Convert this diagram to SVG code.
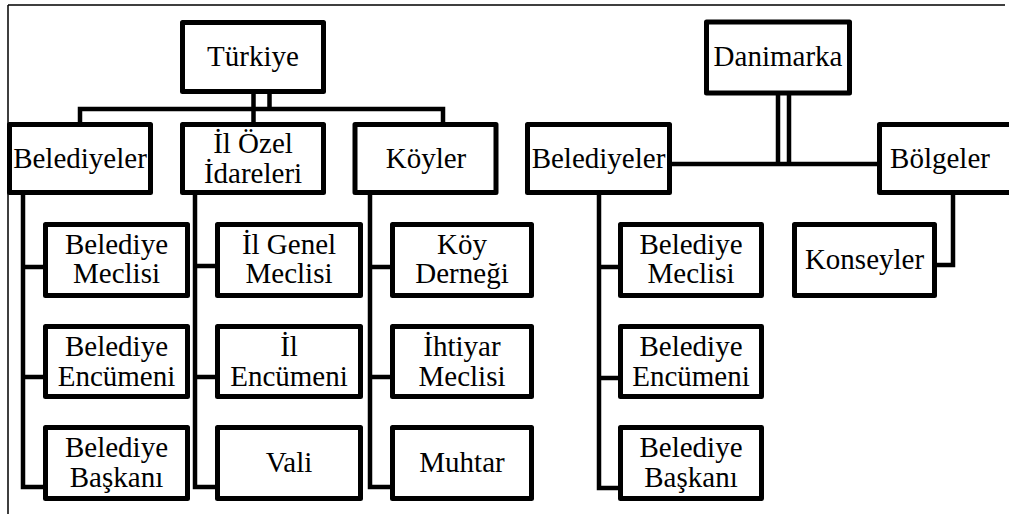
<svg xmlns="http://www.w3.org/2000/svg" width="1009" height="514" viewBox="0 0 1009 514">
<style>
.box{fill:#fff;stroke:#000;stroke-width:5;stroke-linejoin:round}
.c{fill:none;stroke:#000;stroke-width:4.5;stroke-linejoin:miter;stroke-linecap:square}
.f{fill:none;stroke:#000;stroke-width:1.5}
</style>
<rect width="1009" height="514" fill="#fff"/>
<g id="frame"><path class="f" d="M8,5 H1005 M8,5 V514"/></g>
<g id="connectors">
<path class="c" d="M253.5,94 V122 M269.5,94 V109 M80,122 V109 H443 V122"/>
<path class="c" d="M23,195 V487 H43 M23,267 H43 M23,377 H43"/>
<path class="c" d="M195,195 V487 H215 M195,266 H215 M195,377 H215"/>
<path class="c" d="M370,195 V487 H390 M370,267 H390 M370,377 H390"/>
<path class="c" d="M599,195 V488 H618 M599,267 H618 M599,378 H618"/>
<path class="c" d="M778,96 V164 M789,96 V164 M672,164 H877"/>
<path class="c" d="M953,195 V265 H937"/>
</g>
<g id="nodes" font-size="29" text-anchor="middle" fill="#000">
<g id="turkiye"><rect class="box" x="182.5" y="22.5" width="141" height="69"/><text style="font-family:'Liberation Serif'" x="253" y="66">Türkiye</text></g>
<g id="t-belediyeler"><rect class="box" x="9.5" y="124.5" width="141" height="68"/><text style="font-family:'Liberation Serif'" x="80" y="168">Belediyeler</text></g>
<g id="t-ilozel"><rect class="box" x="182.5" y="124.5" width="141" height="68"/><text style="font-family:'Liberation Serif'" x="253" y="153">İl Özel<tspan x="253" dy="30">İdareleri</tspan></text></g>
<g id="t-koyler"><rect class="box" x="355" y="124.5" width="141" height="68"/><text style="font-family:'Liberation Serif'" x="426" y="168">Köyler</text></g>
<g id="t-bel-meclisi"><rect class="box" x="45.5" y="224.5" width="142" height="71"/><text style="font-family:'Liberation Serif'" x="116.5" y="254">Belediye<tspan x="116.5" dy="29">Meclisi</tspan></text></g>
<g id="t-bel-encumeni"><rect class="box" x="45.5" y="326.5" width="142" height="70"/><text style="font-family:'Liberation Serif'" x="116.5" y="356">Belediye<tspan x="116.5" dy="30">Encümeni</tspan></text></g>
<g id="t-bel-baskani"><rect class="box" x="45.5" y="427.5" width="142" height="71"/><text style="font-family:'Liberation Serif'" x="116.5" y="457">Belediye<tspan x="116.5" dy="30">Başkanı</tspan></text></g>
<g id="t-il-genel"><rect class="box" x="217.5" y="224.5" width="143" height="71"/><text style="font-family:'Liberation Serif'" x="289" y="254">İl Genel<tspan x="289" dy="29">Meclisi</tspan></text></g>
<g id="t-il-encumeni"><rect class="box" x="217.5" y="326.5" width="143" height="70"/><text style="font-family:'Liberation Serif'" x="289" y="356">İl<tspan x="289" dy="30">Encümeni</tspan></text></g>
<g id="t-vali"><rect class="box" x="217.5" y="427.5" width="143" height="71"/><text style="font-family:'Liberation Serif'" x="289" y="472">Vali</text></g>
<g id="t-koy-dernegi"><rect class="box" x="392.5" y="224.5" width="139" height="71"/><text style="font-family:'Liberation Serif'" x="462" y="254">Köy<tspan x="462" dy="29">Derneği</tspan></text></g>
<g id="t-ihtiyar"><rect class="box" x="392.5" y="326.5" width="139" height="70"/><text style="font-family:'Liberation Serif'" x="462" y="356">İhtiyar<tspan x="462" dy="30">Meclisi</tspan></text></g>
<g id="t-muhtar"><rect class="box" x="392.5" y="427.5" width="139" height="71"/><text style="font-family:'Liberation Serif'" x="462" y="472">Muhtar</text></g>
<g id="danimarka"><rect class="box" x="706.5" y="22" width="143" height="71"/><text style="font-family:'Liberation Serif'" x="778" y="66">Danimarka</text></g>
<g id="d-belediyeler"><rect class="box" x="527.5" y="124.5" width="142" height="68"/><text style="font-family:'Liberation Serif'" x="598.5" y="168">Belediyeler</text></g>
<g id="d-bolgeler"><rect class="box" x="879.5" y="124.5" width="142" height="68"/><text style="font-family:'Liberation Serif'" x="940" y="168">Bölgeler</text></g>
<g id="d-bel-meclisi"><rect class="box" x="620.5" y="224.5" width="141" height="71"/><text style="font-family:'Liberation Serif'" x="691" y="254">Belediye<tspan x="691" dy="29">Meclisi</tspan></text></g>
<g id="d-bel-encumeni"><rect class="box" x="620.5" y="326.5" width="141" height="70"/><text style="font-family:'Liberation Serif'" x="691" y="356">Belediye<tspan x="691" dy="30">Encümeni</tspan></text></g>
<g id="d-bel-baskani"><rect class="box" x="620.5" y="427.5" width="141" height="71"/><text style="font-family:'Liberation Serif'" x="691" y="457">Belediye<tspan x="691" dy="30">Başkanı</tspan></text></g>
<g id="d-konseyler"><rect class="box" x="794.5" y="224.5" width="140" height="71"/><text style="font-family:'Liberation Serif'" x="864.5" y="269">Konseyler</text></g>
</g>
</svg>
